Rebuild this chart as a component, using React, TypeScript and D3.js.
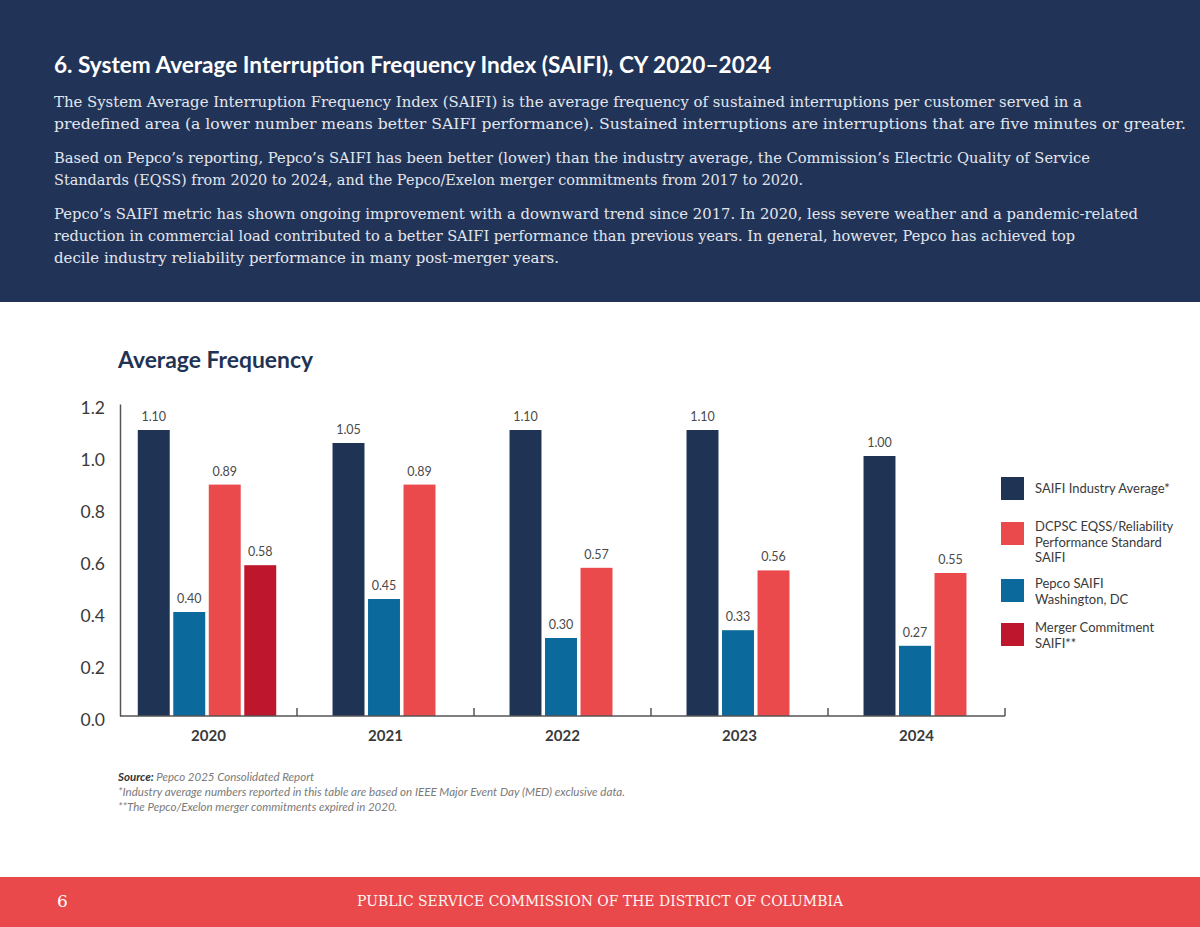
import React, { useRef, useEffect } from "react";
import * as d3 from "d3";

// data
const years = ["2020", "2021", "2022", "2023", "2024"];
const industryAvg = [1.1, 1.05, 1.1, 1.1, 1.0];
const pepcoSaifi = [0.4, 0.45, 0.3, 0.33, 0.27];
const eqssStandard = [0.89, 0.89, 0.57, 0.56, 0.55];
const mergerCommitment: (number | null)[] = [0.58, null, null, null, null];
const yTicks = [0, 0.2, 0.4, 0.6, 0.8, 1.0, 1.2];

const headerTitle = "6. System Average Interruption Frequency Index (SAIFI), CY 2020–2024";
const headerLines = [
  "The System Average Interruption Frequency Index (SAIFI) is the average frequency of sustained interruptions per customer served in a",
  "predefined area (a lower number means better SAIFI performance). Sustained interruptions are interruptions that are five minutes or greater.",
  "Based on Pepco’s reporting, Pepco’s SAIFI has been better (lower) than the industry average, the Commission’s Electric Quality of Service",
  "Standards (EQSS) from 2020 to 2024, and the Pepco/Exelon merger commitments from 2017 to 2020.",
  "Pepco’s SAIFI metric has shown ongoing improvement with a downward trend since 2017. In 2020, less severe weather and a pandemic-related",
  "reduction in commercial load contributed to a better SAIFI performance than previous years. In general, however, Pepco has achieved top",
  "decile industry reliability performance in many post-merger years.",
];

interface Series {
  key: string;
  legend: string[];
  values: (number | null)[];
  color: string;
}

// bar order inside a group
const series: Series[] = [
  { key: "industry", legend: ["SAIFI Industry Average*"], values: industryAvg, color: "#1f3354" },
  { key: "pepco", legend: ["Pepco SAIFI", "Washington, DC"], values: pepcoSaifi, color: "#0b6a9b" },
  { key: "eqss", legend: ["DCPSC EQSS/Reliability", "Performance Standard", "SAIFI"], values: eqssStandard, color: "#eb4a4c" },
  { key: "merger", legend: ["Merger Commitment", "SAIFI**"], values: mergerCommitment, color: "#bd162d" },
];
const legendOrder = ["industry", "eqss", "pepco", "merger"];

export default function App() {
  const svgRef = useRef<SVGSVGElement>(null);

  useEffect(() => {
    if (!svgRef.current) return;
    const width = 1200;
    const height = 927;
    const svg = d3.select(svgRef.current);
    svg.selectAll("*").remove();
    svg.attr("width", width).attr("height", height).attr("viewBox", `0 0 ${width} ${height}`);

    svg.append("rect").attr("width", width).attr("height", height).attr("fill", "#ffffff");

    // Header block
    svg.append("rect").attr("width", width).attr("height", 302).attr("fill", "#213457");
    svg
      .append("text")
      .attr("x", 54)
      .attr("y", 73)
      .attr("fill", "#ffffff")
      .attr("font-family", "Lato, sans-serif")
      .attr("font-weight", 700)
      .attr("font-size", "22px")
      .attr("textLength", 717)
      .attr("lengthAdjust", "spacingAndGlyphs")
      .text(headerTitle);

    const lineY = [107, 129, 163, 185, 219, 241, 263];
    const lineEnd = [1082, 1186, 1090, 803, 1138, 1075, 559];
    headerLines.forEach((t, i) => {
      svg
        .append("text")
        .attr("x", 54)
        .attr("y", lineY[i])
        .attr("fill", "#e3e6ee")
        .attr("font-family", "'DejaVu Serif', serif")
        .attr("font-size", "14.5px")
        .attr("textLength", lineEnd[i] - 54)
        .attr("lengthAdjust", "spacingAndGlyphs")
        .text(t);
    });

    // Chart title
    svg
      .append("text")
      .attr("x", 118)
      .attr("y", 368)
      .attr("fill", "#1f3354")
      .attr("font-family", "Lato, sans-serif")
      .attr("font-weight", 700)
      .attr("font-size", "22.5px")
      .attr("textLength", 195)
      .attr("lengthAdjust", "spacingAndGlyphs")
      .text("Average Frequency");

    // Scales
    const left = 120;
    const right = 1005;
    const y = d3.scaleLinear().domain([0, 1.2]).range([716, 404]);
    const x0 = d3.scaleBand().domain(years).range([left, right]).padding(0);
    const subStep = 35.5;

    // Bars
    years.forEach((year, yi) => {
      const present = series.filter((s) => s.values[yi] != null);
      const center = (x0(year) || 0) + x0.bandwidth() / 2 - 1.5;
      const start = center - (present.length * subStep) / 2;
      const x1 = d3
        .scaleBand()
        .domain(present.map((s) => s.key))
        .range([start, start + present.length * subStep])
        .paddingInner(0.1)
        .paddingOuter(0.05);

      present.forEach((s) => {
        const v = s.values[yi] as number;
        const bx = x1(s.key) || 0;
        svg
          .append("rect")
          .attr("x", bx)
          .attr("y", y(v))
          .attr("width", x1.bandwidth())
          .attr("height", y(0) - y(v))
          .attr("fill", s.color);
        svg
          .append("text")
          .attr("x", bx + x1.bandwidth() / 2)
          .attr("y", y(v) - 9)
          .attr("text-anchor", "middle")
          .attr("fill", "#4a4a4a")
          .attr("font-family", "Lato, sans-serif")
          .attr("font-size", "12.5px")
          .text(d3.format(".2f")(v));
      });
    });

    // Y axis
    const yAxis = svg
      .append("g")
      .attr("transform", `translate(${left},0)`)
      .call(d3.axisLeft(y).tickValues(yTicks).tickSize(0).tickPadding(15).tickFormat(d3.format(".1f")));
    yAxis.select(".domain").attr("stroke", "#555").attr("stroke-width", 1.5);
    yAxis
      .selectAll("text")
      .attr("fill", "#3a3a3a")
      .attr("font-family", "Lato, sans-serif")
      .attr("font-size", "17.5px")
      .attr("dy", "0.55em");

    // X axis line with upward ticks at group boundaries
    svg
      .append("line")
      .attr("x1", left)
      .attr("x2", right)
      .attr("y1", y(0))
      .attr("y2", y(0))
      .attr("stroke", "#555")
      .attr("stroke-width", 1.5);
    years.forEach((year) => {
      const tx = (x0(year) || 0) + x0.bandwidth();
      svg
        .append("line")
        .attr("x1", tx)
        .attr("x2", tx)
        .attr("y1", y(0))
        .attr("y2", y(0) - 8)
        .attr("stroke", "#555")
        .attr("stroke-width", 1.5);
      svg
        .append("text")
        .attr("x", (x0(year) || 0) + x0.bandwidth() / 2)
        .attr("y", 741)
        .attr("text-anchor", "middle")
        .attr("fill", "#3a3a3a")
        .attr("font-family", "Lato, sans-serif")
        .attr("font-weight", 700)
        .attr("font-size", "15px")
        .text(year);
    });

    // Legend
    const legendTops = [477, 522, 579, 623];
    legendOrder.forEach((key, i) => {
      const s = series.find((d) => d.key === key)!;
      const top = legendTops[i];
      svg
        .append("rect")
        .attr("x", 1001)
        .attr("y", top)
        .attr("width", 23)
        .attr("height", 23)
        .attr("fill", s.color);
      s.legend.forEach((line, li) => {
        const cy = s.legend.length === 1 ? top + 11.5 : top + 4.5 + li * 15.5;
        svg
          .append("text")
          .attr("x", 1035)
          .attr("y", cy)
          .attr("dy", "0.35em")
          .attr("fill", "#3a3a3a")
          .attr("font-family", "Lato, sans-serif")
          .attr("font-size", "13px")
          .text(line);
      });
    });

    // Notes
    const notes = svg
      .append("g")
      .attr("font-family", "Lato, sans-serif")
      .attr("font-style", "italic")
      .attr("font-size", "11.5px")
      .attr("fill", "#7a7a7a");
    const src = notes.append("text").attr("x", 118).attr("y", 781);
    src.append("tspan").attr("font-weight", 700).attr("fill", "#333").text("Source: ");
    src.append("tspan").text("Pepco 2025 Consolidated Report");
    notes
      .append("text")
      .attr("x", 118)
      .attr("y", 796)
      .attr("textLength", 507)
      .attr("lengthAdjust", "spacingAndGlyphs")
      .text("*Industry average numbers reported in this table are based on IEEE Major Event Day (MED) exclusive data.");
    notes
      .append("text")
      .attr("x", 118)
      .attr("y", 811)
      .text("**The Pepco/Exelon merger commitments expired in 2020.");

    // Footer band
    svg.append("rect").attr("y", 877).attr("width", width).attr("height", 50).attr("fill", "#ea494b");
    svg
      .append("text")
      .attr("x", 57)
      .attr("y", 907)
      .attr("fill", "#ffffff")
      .attr("font-family", "'DejaVu Serif', serif")
      .attr("font-size", "17px")
      .text("6");
    svg
      .append("text")
      .attr("x", 357)
      .attr("y", 906)
      .attr("fill", "#fff4f4")
      .attr("font-family", "'DejaVu Serif', serif")
      .attr("font-size", "14px")
      .attr("textLength", 486)
      .attr("lengthAdjust", "spacingAndGlyphs")
      .text("PUBLIC SERVICE COMMISSION OF THE DISTRICT OF COLUMBIA");
  }, []);

  return (
    <div style={{ position: "absolute", left: 0, top: 0 }}>
      <svg ref={svgRef} style={{ display: "block" }} />
    </div>
  );
}
